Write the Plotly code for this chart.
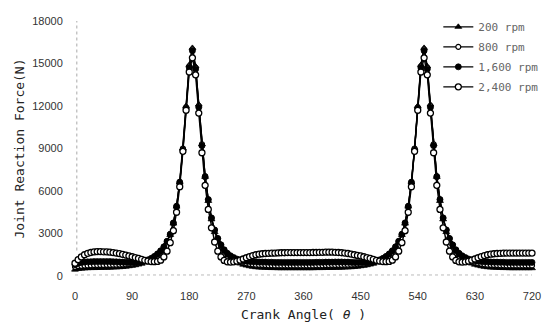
import plotly.graph_objects as go

# Crank angle grid (degrees)
crank_angle = list(range(0, 721, 5))

series_names = ["200 rpm", "800 rpm", "1,600 rpm", "2,400 rpm"]

force_200 = [
    450, 500, 520, 540, 550, 560, 560, 570, 570, 580,
    580, 590, 600, 610, 620, 640, 660, 690, 720, 760,
    810, 870, 950, 1050, 1170, 1320, 1500, 1720, 2000, 2400,
    2900, 3700, 4900, 6600, 9000, 12000, 14900, 16100, 14800, 12100,
    9300, 7000, 5300, 4000, 3100, 2500, 2050, 1700, 1450, 1250,
    1100, 980, 880, 800, 740, 690, 650, 620, 600, 590,
    580, 570, 560, 560, 550, 550, 550, 550, 550, 550,
    550, 550, 550, 550, 550, 550, 560, 560, 560, 570,
    570, 570, 580, 580, 590, 600, 610, 620, 640, 660,
    690, 720, 760, 810, 870, 950, 1050, 1170, 1320, 1500,
    1720, 2000, 2400, 2900, 3700, 4900, 6600, 9000, 12000, 14900,
    16100, 14800, 12100, 9300, 7000, 5300, 4000, 3100, 2500, 2050,
    1700, 1450, 1250, 1100, 980, 880, 800, 740, 690, 650,
    620, 600, 590, 580, 570, 560, 560, 550, 550, 550,
    550, 550, 550, 550, 550,
]

force_800 = [
    650, 700, 720, 740, 750, 760, 770, 770, 780, 780,
    790, 790, 800, 800, 810, 820, 830, 850, 870, 900,
    940, 990, 1050, 1130, 1240, 1380, 1560, 1780, 2060, 2450,
    2950, 3750, 4950, 6650, 9000, 11900, 14800, 16000, 14700, 12000,
    9300, 7050, 5400, 4100, 3250, 2650, 2200, 1850, 1600, 1400,
    1250, 1130, 1030, 960, 900, 860, 830, 800, 790, 780,
    770, 760, 760, 750, 750, 750, 750, 750, 750, 750,
    750, 750, 750, 750, 750, 750, 760, 760, 760, 770,
    770, 780, 780, 790, 790, 800, 800, 810, 820, 830,
    850, 870, 900, 940, 990, 1050, 1130, 1240, 1380, 1560,
    1780, 2060, 2450, 2950, 3750, 4950, 6650, 9000, 11900, 14800,
    16000, 14700, 12000, 9300, 7050, 5400, 4100, 3250, 2650, 2200,
    1850, 1600, 1400, 1250, 1130, 1030, 960, 900, 860, 830,
    800, 790, 780, 770, 760, 760, 750, 750, 750, 750,
    750, 750, 750, 750, 750,
]

force_1600 = [
    800, 900, 950, 980, 1000, 1010, 1020, 1020, 1020, 1020,
    1020, 1020, 1010, 1000, 990, 980, 970, 960, 960, 970,
    990, 1020, 1070, 1140, 1240, 1380, 1560, 1780, 2060, 2450,
    2950, 3750, 4900, 6600, 8900, 11800, 14700, 15900, 14600, 11900,
    9200, 7000, 5400, 4100, 3250, 2650, 2200, 1850, 1600, 1430,
    1300, 1200, 1130, 1080, 1050, 1030, 1010, 1000, 990, 980,
    980, 970, 970, 960, 960, 960, 960, 960, 960, 960,
    960, 960, 960, 960, 960, 960, 970, 970, 970, 980,
    980, 980, 990, 990, 990, 980, 980, 970, 960, 960,
    960, 960, 970, 990, 1020, 1070, 1140, 1240, 1380, 1560,
    1780, 2060, 2450, 2950, 3750, 4900, 6600, 8900, 11800, 14700,
    15900, 14600, 11900, 9200, 7000, 5400, 4100, 3250, 2650, 2200,
    1850, 1600, 1430, 1300, 1200, 1130, 1080, 1050, 1030, 1010,
    1000, 990, 980, 980, 970, 970, 960, 960, 960, 960,
    960, 960, 960, 960, 960,
]

force_2400 = [
    900, 1150, 1350, 1500, 1600, 1660, 1700, 1720, 1720, 1710,
    1700, 1680, 1650, 1620, 1580, 1530, 1480, 1420, 1360, 1300,
    1250, 1180, 1110, 1060, 1020, 1010, 1030, 1120, 1350, 1750,
    2350, 3200, 4500, 6300, 8800, 11700, 14400, 15400, 14200, 11500,
    8700, 6400, 4700, 3400, 2400, 1750, 1350, 1100, 1000, 980,
    1000, 1050, 1120, 1200, 1290, 1370, 1440, 1500, 1540, 1570,
    1590, 1600, 1610, 1620, 1630, 1640, 1640, 1650, 1650, 1650,
    1650, 1650, 1650, 1650, 1650, 1660, 1660, 1670, 1670, 1680,
    1680, 1680, 1670, 1660, 1640, 1620, 1590, 1550, 1500, 1450,
    1420, 1360, 1300, 1250, 1180, 1110, 1060, 1020, 1010, 1030,
    1120, 1350, 1750, 2350, 3200, 4500, 6300, 8800, 11700, 14400,
    15400, 14200, 11500, 8700, 6400, 4700, 3400, 2400, 1750, 1350,
    1100, 1000, 980, 1000, 1050, 1120, 1200, 1290, 1370, 1440,
    1500, 1540, 1570, 1590, 1600, 1610, 1620, 1620, 1620, 1620,
    1620, 1620, 1620, 1620, 1620,
]

x_ticks = [0, 90, 180, 270, 360, 450, 540, 630, 720]
y_ticks = [0, 3000, 6000, 9000, 12000, 15000, 18000]

all_series = [force_200, force_800, force_1600, force_2400]
marker_styles = [
    dict(symbol="triangle-up", size=6, color="black", line=dict(color="black", width=0.8)),
    dict(symbol="circle", size=5, color="white", line=dict(color="black", width=1.2)),
    dict(symbol="circle", size=6, color="black", line=dict(color="black", width=0.8)),
    dict(symbol="circle", size=6, color="white", line=dict(color="black", width=1.3)),
]

fig = go.Figure()
for i, (name, ys) in enumerate(zip(series_names, all_series)):
    fig.add_trace(go.Scatter(
        x=crank_angle, y=ys, name=name, mode="lines+markers",
        line=dict(color="black", width=1.4),
        marker=marker_styles[i],
        cliponaxis=False,
        legendgroup=f"g{i}",
    ))

fig.add_shape(type="line", xref="paper", yref="paper", x0=0.004, x1=0.004, y0=0.1, y1=1,
              line=dict(color="#aaaaaa", width=1, dash="dot"), layer="below")
fig.add_shape(type="line", xref="paper", yref="paper", x0=0, x1=1, y0=0.004, y1=0.004,
              line=dict(color="#bbbbbb", width=1, dash="dot"), layer="below")

fig.update_layout(
    width=558, height=331,
    margin=dict(l=75, r=26, t=13, b=53),
    paper_bgcolor="white", plot_bgcolor="white",
    showlegend=True,
    legend=dict(
        x=0.795, y=1.034, xanchor="left", yanchor="top",
        font=dict(family="DejaVu Sans Mono", size=11, color="#666666"),
        bgcolor="rgba(255,255,255,0)", borderwidth=0,
        tracegroupgap=1, itemwidth=30,
    ),
    xaxis=dict(
        range=[0, 720], tickvals=x_ticks, ticktext=[str(v) for v in x_ticks],
        ticks="outside", ticklen=10, tickcolor="rgba(0,0,0,0)",
        showgrid=False, zeroline=False, showline=False,
        tickfont=dict(family="Liberation Sans", size=11, color="#333333"),
        title=dict(text="Crank Angle( <i>θ</i> )", standoff=8,
                   font=dict(family="DejaVu Sans Mono", size=13, color="#222222")),
    ),
    yaxis=dict(
        range=[0, 18000], tickvals=y_ticks, ticktext=[str(v) for v in y_ticks],
        ticks="outside", ticklen=9, tickcolor="rgba(0,0,0,0)",
        showgrid=False, zeroline=False, showline=False,
        tickfont=dict(family="Liberation Sans", size=11, color="#333333"),
        title=dict(text="Joint Reaction Force(N)", standoff=4,
                   font=dict(family="DejaVu Sans Mono", size=13, color="#222222")),
    ),
)

fig.write_html("out.html")
